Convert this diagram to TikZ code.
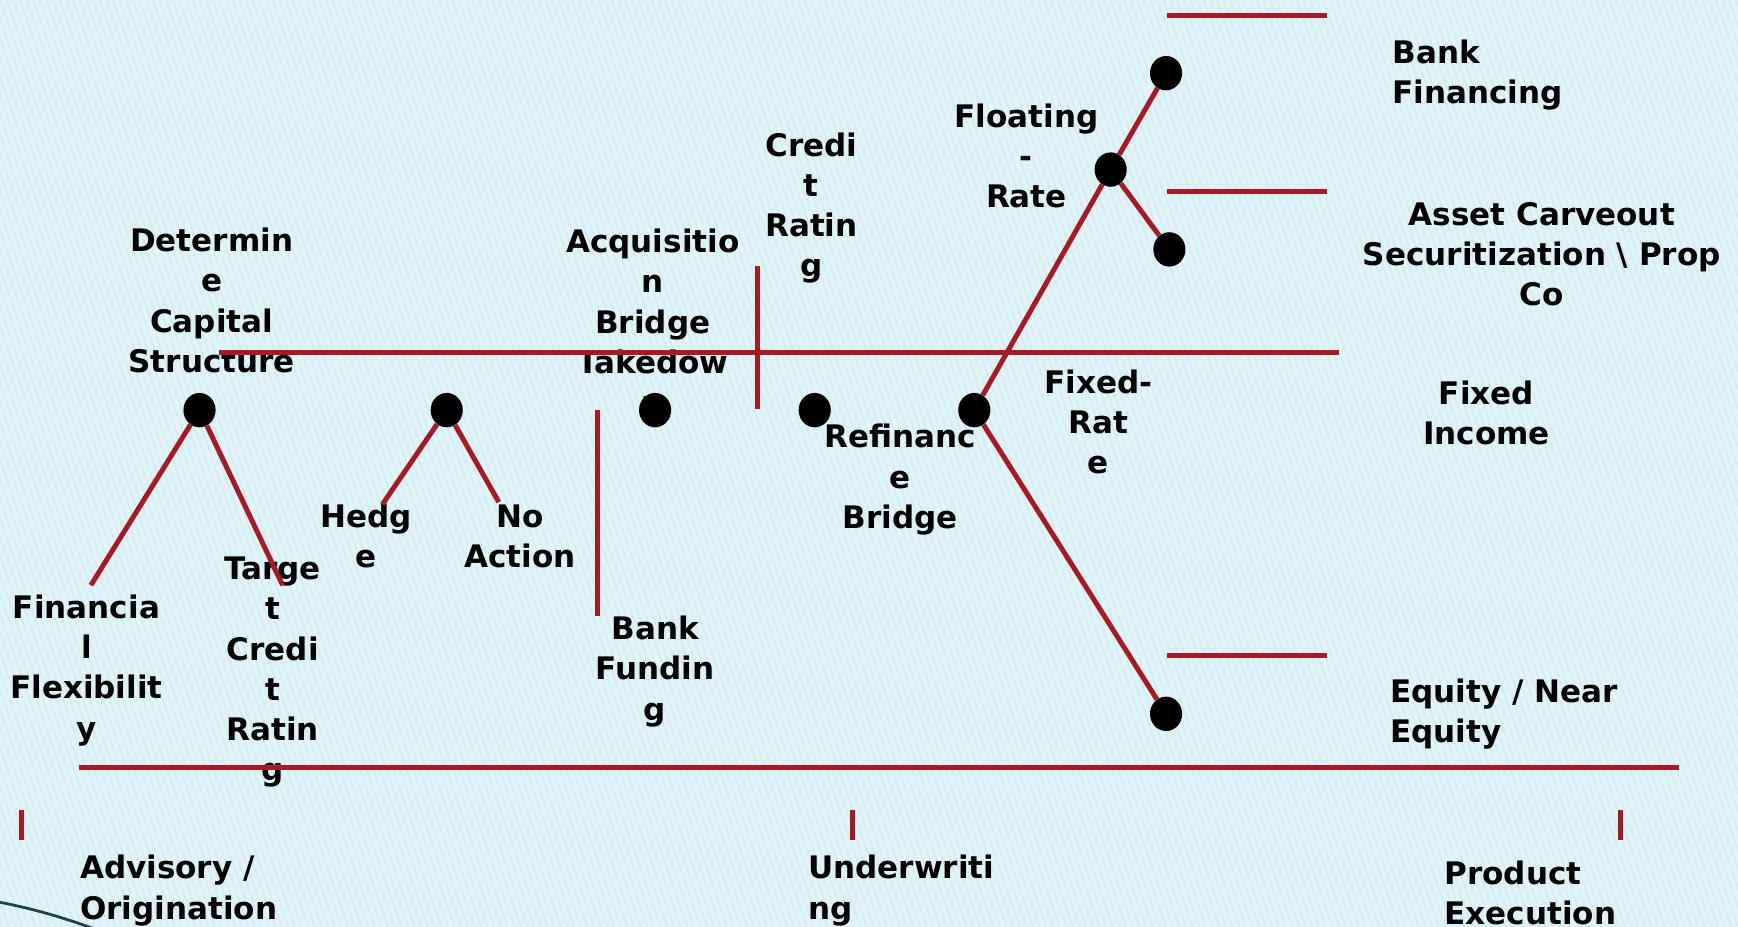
\documentclass[tikz,border=0pt]{standalone}
\usepackage{fontspec}
\setmainfont{DejaVu Sans}
\usetikzlibrary{shapes.geometric}
\definecolor{bgblue}{RGB}{224,244,248}
\definecolor{stripecol}{RGB}{212,235,242}
\definecolor{dred}{RGB}{166,26,36}
\definecolor{swooshcol}{RGB}{28,66,80}
\newcommand\cbox[1]{\begin{tabular}[t]{@{}c@{}}#1\end{tabular}}
\newcommand\lbox[1]{\begin{tabular}[t]{@{}l@{}}#1\end{tabular}}
\tikzset{
  lbl/.style={font=\bfseries\fontsize{28}{36.3}\selectfont, inner sep=0pt, anchor=base},
  lblL/.style={lbl, anchor=base west},
  redln/.style={draw=dred, line width=4.5pt},
  dot/.style={ellipse, fill=black, minimum width=29pt, minimum height=31pt, inner sep=0pt},
}
\begin{document}
\begin{tikzpicture}[x=1pt, y=-1pt]
\useasboundingbox (0,0) rectangle (1568,836);
% background
\fill[bgblue] (0,0) rectangle (1568,836);
\begin{scope}
  \clip (0,0) rectangle (1568,836);
  \foreach \x in {-300,-294,...,1570} \draw[stripecol, line width=1.4pt] (\x,0) -- (\x+290,836);
  \draw[swooshcol, line width=2.5pt] (0,814) .. controls (30,820) and (55,827) .. (85,838);
\end{scope}

% labels
\node[lbl] (detcap) at (191,227) {\cbox{Determin\\e\\Capital\\Structure}};
\node[lbl] (finflex) at (78,558) {\cbox{Financia\\l\\Flexibilit\\y}};
\node[lbl] (tcr) at (246,523) {\cbox{Targe\\t\\Credi\\t\\Ratin\\g}};
\node[lbl] (hedge) at (330,476) {\cbox{Hedg\\e}};
\node[lbl] (noact) at (469,476) {\cbox{No\\Action}};
\node[lbl] (acq) at (589,228) {\cbox{Acquisitio\\n\\Bridge\\Takedow\\n}};
\node[lbl] (crr) at (732,141) {\cbox{Credi\\t\\Ratin\\g}};
\node[lbl] (flr) at (926,115) {\cbox{Floating\\-\\Rate}};
\node[lbl] (refb) at (812,404) {\cbox{Refinanc\\e\\Bridge}};
\node[lbl] (fxr) at (991,355) {\cbox{Fixed-\\Rat\\e}};
\node[lblL] (bankfin) at (1256,57) {\lbox{Bank\\Financing}};
\node[lbl] (asset) at (1391,203) {\cbox{Asset Carveout\\Securitization \textbackslash{} Prop\\Co}};
\node[lbl] (fixinc) at (1341,365) {\cbox{Fixed\\Income}};
\node[lblL] (equity) at (1254,634) {\lbox{Equity / Near\\Equity}};
\node[lbl] (bankfund) at (591,577) {\cbox{Bank\\Fundin\\g}};
\node[lblL] (advis) at (72,793) {\lbox{Advisory /\\Origination}};
\node[lblL] (underw) at (729,793) {\lbox{Underwriti\\ng}};
\node[lblL] (prodex) at (1303,798) {\lbox{Product\\Execution}};

% dots
\node[dot] (c1) at (180,370) {};
\node[dot] (c2) at (403,370) {};
\node[dot] (c3) at (591,370) {};
\node[dot] (c4) at (735,370) {};
\node[dot] (c5) at (879,370) {};
\node[dot] (c6) at (1002,153) {};
\node[dot] (c7) at (1052,66) {};
\node[dot] (c8) at (1055,225) {};
\node[dot] (c9) at (1052,644) {};

% free line ends
\coordinate (t1a) at (1053,14);  \coordinate (t1b) at (1197,14);
\coordinate (t2a) at (1053,173); \coordinate (t2b) at (1197,173);
\coordinate (t3a) at (1053,591); \coordinate (t3b) at (1197,591);
\coordinate (mainL) at (198,318); \coordinate (mainR) at (1208,318);
\coordinate (botL) at (71,692);  \coordinate (botR) at (1515,692);
\coordinate (v1a) at (683,240);  \coordinate (v1b) at (683,369);
\coordinate (v2a) at (539,370);  \coordinate (v2b) at (539,556);
\coordinate (k1a) at (19,731);   \coordinate (k1b) at (19,758);
\coordinate (k2a) at (769,731);  \coordinate (k2b) at (769,758);
\coordinate (k3a) at (1462,731); \coordinate (k3b) at (1462,758);
\coordinate (e1) at (82,528);  \coordinate (e2) at (255,528);
\coordinate (e3) at (345,455); \coordinate (e4) at (450,453);

% red lines
\draw[redln] (t1a) -- (t1b);
\draw[redln] (t2a) -- (t2b);
\draw[redln] (t3a) -- (t3b);
\draw[redln] (mainL) -- (mainR);
\draw[redln] (botL) -- (botR);
\draw[redln] (v1a) -- (v1b);
\draw[redln] (v2a) -- (v2b);
\draw[redln] (k1a) -- (k1b);
\draw[redln] (k2a) -- (k2b);
\draw[redln] (k3a) -- (k3b);
\draw[redln] (c1) -- (e1);
\draw[redln] (c1) -- (e2);
\draw[redln] (c2) -- (e3);
\draw[redln] (c2) -- (e4);
\draw[redln] (c5) -- (c6);
\draw[redln] (c6) -- (c7);
\draw[redln] (c6) -- (c8);
\draw[redln] (c5) -- (c9);
\end{tikzpicture}
\end{document}
